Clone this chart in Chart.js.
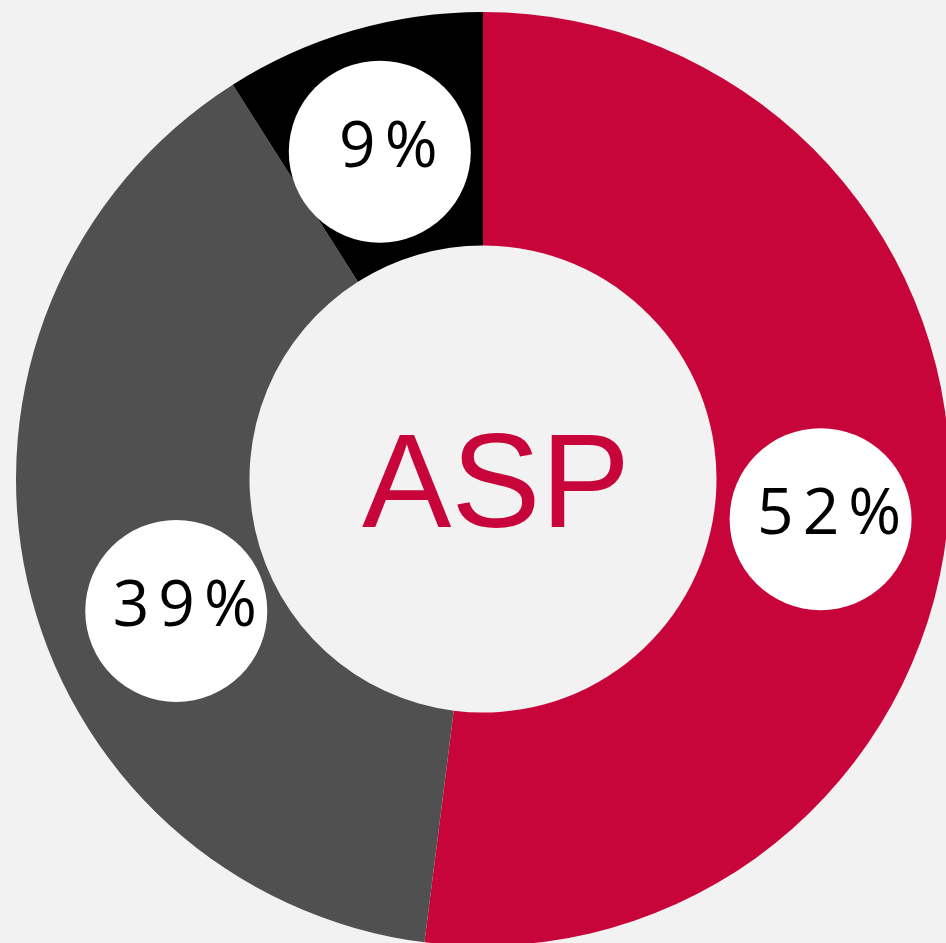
<!DOCTYPE html>
<html>
<head>
<meta charset="utf-8">
<script src="https://cdn.jsdelivr.net/npm/chart.js@4"></script>
<style>
    html, body { margin: 0; padding: 0; background: #f2f2f2; overflow: hidden; width: 946px; height: 943px; }
    #wrap { position: absolute; left: 16px; top: 12px; width: 934px; height: 934px; }
</style>
</head>
<body>
<div id="wrap"><canvas id="myChart" width="934" height="934"></canvas></div>
<script>
const categories = ['Red', 'Grey', 'Black'];
const shares = [52, 39, 9];
const sliceColors = ['#c8053a', '#505050', '#000000'];
const centerTitle = 'ASP';

// where each label bubble sits inside its slice (fraction of angle, fraction of ring width)
const bubbleAngle = [0.517, 0.424, 0.46];
const bubbleRing = [0.456, 0.43, 0.47];

const bubbles = {
    id: 'bubbles',
    afterDatasetsDraw(chart) {
        const ctx = chart.ctx;
        const arcs = chart.getDatasetMeta(0).data;
        ctx.save();
        arcs.forEach((arc, i) => {
            const a = arc.startAngle + bubbleAngle[i] * (arc.endAngle - arc.startAngle);
            const r = arc.innerRadius + bubbleRing[i] * (arc.outerRadius - arc.innerRadius);
            const x = arc.x + r * Math.cos(a);
            const y = arc.y + r * Math.sin(a);
            ctx.beginPath();
            ctx.arc(x, y, 91, 0, Math.PI * 2);
            ctx.fillStyle = '#ffffff';
            ctx.fill();
            ctx.fillStyle = '#000000';
            ctx.font = '64px "Open Sans"';
            ctx.letterSpacing = '9px';
            ctx.textAlign = 'center';
            ctx.textBaseline = 'middle';
            ctx.fillText(shares[i] + '%', x + 13, y - 3);
        });
        const c = arcs[0];
        ctx.letterSpacing = '0px';
        ctx.fillStyle = '#c8053a';
        ctx.font = '134px "Liberation Sans"';
        ctx.textAlign = 'center';
        ctx.textBaseline = 'alphabetic';
        ctx.fillText(centerTitle, c.x + 13, c.y + 48);
        ctx.restore();
    }
};

function draw() {
    new Chart(document.getElementById('myChart').getContext('2d'), {
        type: 'doughnut',
        data: {
            labels: categories,
            datasets: [{
                data: shares,
                backgroundColor: sliceColors,
                borderWidth: 0,
                hoverOffset: 0,
                offset: 0
            }]
        },
        options: {
            responsive: false,
            animation: false,
            cutout: '50%',
            layout: { padding: 0 },
            plugins: {
                legend: { display: false },
                tooltip: { enabled: false }
            },
            events: []
        },
        plugins: [bubbles]
    });
}

Promise.all([
    document.fonts.load('64px "Open Sans"'),
    document.fonts.load('134px "Liberation Sans"')
]).then(draw, draw);
</script>
</body>
</html>
